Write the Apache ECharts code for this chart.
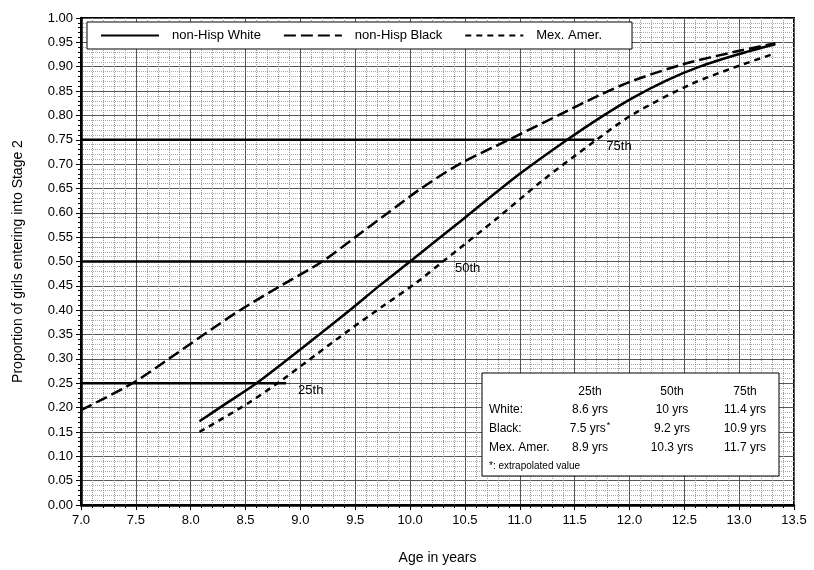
<!DOCTYPE html>
<html lang="en">
<head>
    <meta charset="UTF-8">
    <title>Stage 2 entry</title>
    <script src="https://cdn.jsdelivr.net/npm/echarts@6/dist/echarts.min.js"></script>
</head>
<body style="margin:0">
<div id="main" style="width: 814px;height:570px;"></div>

<script type="text/javascript">

    // curves: age (years) and proportion
    var whiteAge  = [8.08, 8.3, 8.6, 8.85, 9.16, 9.45, 9.73, 10.0, 10.5, 11.0, 11.4, 11.73, 12.03, 12.34, 12.64, 13.0, 13.33];
    var whiteProp = [0.172, 0.205, 0.25, 0.293, 0.348, 0.40, 0.452, 0.50, 0.59, 0.68, 0.745, 0.795, 0.836, 0.872, 0.9, 0.926, 0.946];

    var blackAge  = [7.0, 7.47, 7.8, 8.12, 8.45, 8.82, 9.2, 9.5, 9.8, 10.1, 10.45, 10.9, 11.35, 11.73, 12.03, 12.49, 12.95, 13.33];
    var blackProp = [0.195, 0.25, 0.30, 0.35, 0.40, 0.45, 0.50, 0.55, 0.60, 0.65, 0.70, 0.75, 0.80, 0.842, 0.871, 0.905, 0.93, 0.948];

    var mexAge  = [8.08, 8.53, 8.84, 9.15, 9.45, 9.75, 10.06, 10.3, 10.8, 11.2, 11.7, 12.03, 12.55, 12.95, 13.31];
    var mexProp = [0.15, 0.21, 0.258, 0.31, 0.36, 0.408, 0.457, 0.50, 0.59, 0.665, 0.75, 0.802, 0.863, 0.898, 0.926];

    var seriesNames = ['non-Hisp White', 'non-Hisp Black', 'Mex. Amer.'];

    // percentile reference lines
    var refLevels = [0.25, 0.50, 0.75];
    var refEnds   = [8.87, 10.3, 11.68];
    var refLabels = ['25th', '50th', '75th'];

    // table in the lower right
    var tableHeaders = ['25th', '50th', '75th'];
    var tableRows    = ['White:', 'Black:', 'Mex. Amer.'];
    var tableValues  = [
        ['8.6 yrs', '10 yrs', '11.4 yrs'],
        ['7.5 yrs{s|*}', '9.2 yrs', '10.9 yrs'],
        ['8.9 yrs', '10.3 yrs', '11.7 yrs']
    ];
    var tableNote = '*: extrapolated value';

    var FONT = '"Liberation Sans", Arial, sans-serif';

    function pairs(xs, ys) {
        var out = [];
        for (var i = 0; i < xs.length; i++) {
            out.push([xs[i], ys[i]]);
        }
        return out;
    }

    var curveStyles = [
        { type: 'solid', width: 2.5 },
        { type: [12, 5], width: 2.5 },
        { type: [6, 5], width: 2.5 }
    ];
    var curveData = [pairs(whiteAge, whiteProp), pairs(blackAge, blackProp), pairs(mexAge, mexProp)];

    var series = [];
    for (var i = 0; i < 3; i++) {
        series.push({
            name: seriesNames[i],
            type: 'line',
            data: curveData[i],
            smooth: 0.3,
            symbol: 'none',
            lineStyle: { color: '#000', width: curveStyles[i].width, type: curveStyles[i].type },
            itemStyle: { color: '#000' },
            z: 5
        });
    }
    for (var j = 0; j < refLevels.length; j++) {
        series.push({
            type: 'line',
            data: [[7.0, refLevels[j]], [refEnds[j], refLevels[j]]],
            symbol: 'none',
            lineStyle: { color: '#000', width: 2.5 },
            endLabel: {
                show: true,
                formatter: refLabels[j],
                offset: [4, 7],
                color: '#000',
                fontFamily: FONT,
                fontSize: 13
            },
            silent: true,
            z: 4
        });
    }

    // table box drawn as a graphic
    var boxL = 482, boxT = 373, boxW = 297, boxH = 103;
    var colX = [590, 672, 745];
    var rowY = [410, 429, 448];
    var tableEls = [{
        type: 'rect', z: 100,
        shape: { x: boxL, y: boxT, width: boxW, height: boxH },
        style: { fill: '#ffffff', stroke: '#000', lineWidth: 1 }
    }];
    for (var c = 0; c < tableHeaders.length; c++) {
        tableEls.push({
            type: 'text', z: 101, x: colX[c], y: 392,
            style: { text: tableHeaders[c], font: '12px ' + FONT, fill: '#000', align: 'center', verticalAlign: 'middle' }
        });
    }
    for (var r = 0; r < tableRows.length; r++) {
        tableEls.push({
            type: 'text', z: 101, x: 489, y: rowY[r],
            style: { text: tableRows[r], font: '12px ' + FONT, fill: '#000', verticalAlign: 'middle' }
        });
        for (var k = 0; k < 3; k++) {
            tableEls.push({
                type: 'text', z: 101, x: colX[k], y: rowY[r],
                style: {
                    text: tableValues[r][k], font: '12px ' + FONT, fill: '#000', align: 'center', verticalAlign: 'middle',
                    rich: { s: { fontSize: 9, verticalAlign: 'top', padding: [0, 0, 6, 1], fontFamily: FONT } }
                }
            });
        }
    }
    tableEls.push({
        type: 'text', z: 101, x: 489, y: 466,
        style: { text: tableNote, font: '10px ' + FONT, fill: '#000', verticalAlign: 'middle' }
    });

    var myChart = echarts.init(document.getElementById('main'));
    myChart.setOption({
        animation: false,
        backgroundColor: '#fff',
        textStyle: { fontFamily: FONT },
        grid: {
            left: 81, right: 20, top: 18, bottom: 64,
            show: true, borderColor: '#000', borderWidth: 2
        },
        legend: {
            data: seriesNames,
            left: 87, top: 22,
            padding: [7, 30, 7, 13],
            itemWidth: 58, itemHeight: 14, itemGap: 22,
            backgroundColor: '#fff', borderColor: '#000', borderWidth: 1,
            borderRadius: 0,
            itemStyle: { opacity: 0, borderWidth: 0 },
            textStyle: { color: '#000', fontSize: 13, fontFamily: FONT, padding: [0, 0, 0, 8] }
        },
        xAxis: {
            type: 'value',
            min: 7.0, max: 13.5, interval: 0.5,
            name: 'Age in years',
            nameLocation: 'middle',
            nameGap: 46,
            nameTextStyle: { color: '#000', fontSize: 14, fontFamily: FONT },
            axisLine: { lineStyle: { color: '#000', width: 2.5 } },
            axisTick: { show: true, length: 5, lineStyle: { color: '#000' } },
            minorTick: { show: true, splitNumber: 5, length: 3, lineStyle: { color: '#000' } },
            axisLabel: { color: '#000', fontSize: 13, margin: 9, formatter: function (v) { return v.toFixed(1); } },
            splitLine: { show: true, lineStyle: { color: '#555', width: 1 } },
            minorSplitLine: { show: true, lineStyle: { color: '#999', width: 1, type: 'dotted' } }
        },
        yAxis: {
            type: 'value',
            min: 0, max: 1, interval: 0.05,
            name: 'Proportion of girls entering into Stage 2',
            nameLocation: 'middle',
            nameGap: 56,
            nameTextStyle: { color: '#000', fontSize: 14, fontFamily: FONT },
            axisLine: { show: true, lineStyle: { color: '#000', width: 2.5 } },
            axisTick: { show: true, length: 5, lineStyle: { color: '#000' } },
            minorTick: { show: true, splitNumber: 5, length: 3, lineStyle: { color: '#000' } },
            axisLabel: { color: '#000', fontSize: 13, margin: 8, formatter: function (v) { return v.toFixed(2); } },
            splitLine: { show: true, lineStyle: { color: '#555', width: 1 } },
            minorSplitLine: { show: true, lineStyle: { color: '#aaa', width: 1, type: 'dotted' } }
        },
        series: series,
        graphic: [{ type: 'group', z: 100, children: tableEls }]
    });

</script>
</body>
</html>
